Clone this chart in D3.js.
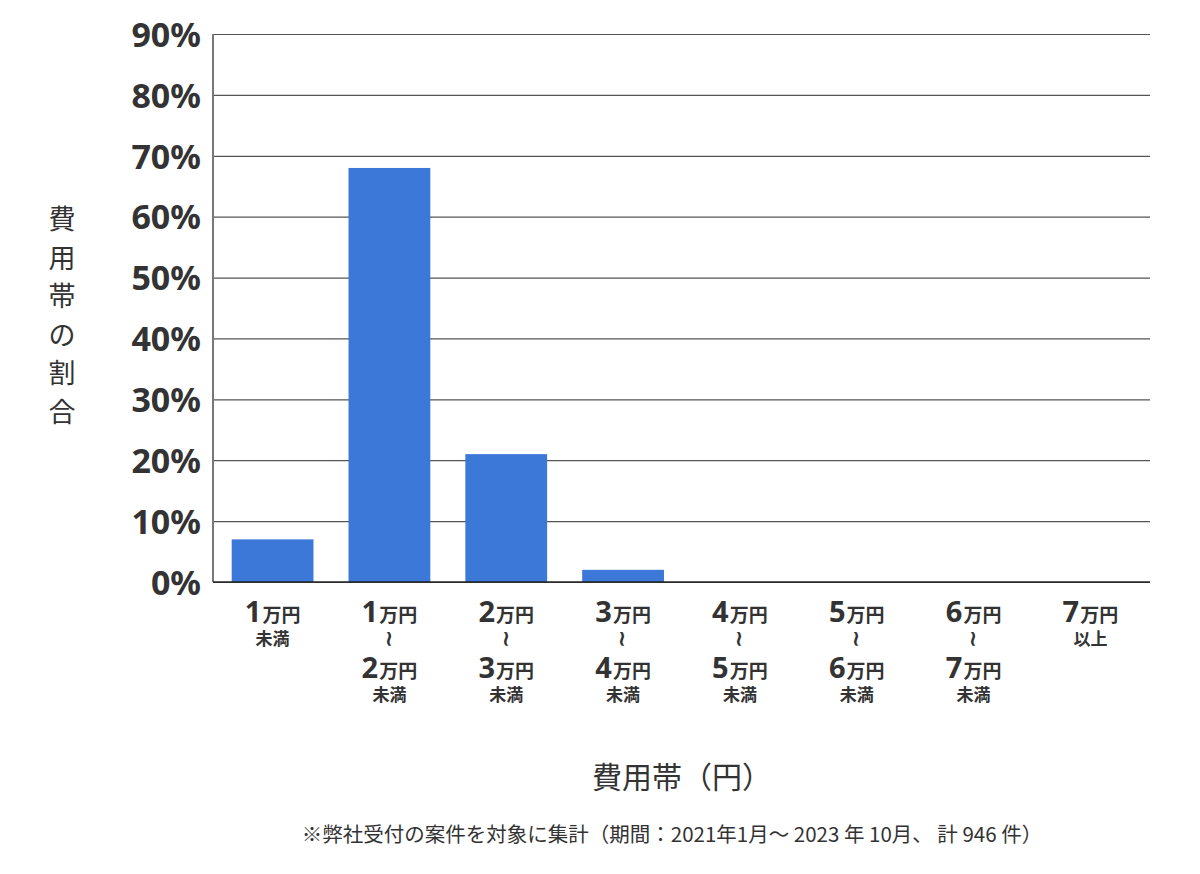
<!DOCTYPE html>
<html>
<head>
<meta charset="utf-8">
<script src="https://cdn.jsdelivr.net/npm/d3@7"></script>
<style>
  body { margin: 0; background: #fff; }
  text { font-family: "Noto Sans CJK JP", "Noto Sans", sans-serif; fill: #333; }
</style>
</head>
<body>
<div id="chart"></div>
<script>
// category labels: [from, to] in 万円 (null = open)
var categories = ["lt1", "1-2", "2-3", "3-4", "4-5", "5-6", "6-7", "ge7"];
var fromLabels = ["1", "1", "2", "3", "4", "5", "6", "7"];
var toLabels = [null, "2", "3", "4", "5", "6", "7", null];
var suffixLabels = ["未満", "未満", "未満", "未満", "未満", "未満", "未満", "以上"];
var shares = [7, 68, 21, 2, 0, 0, 0, 0];
var yTicks = [0, 10, 20, 30, 40, 50, 60, 70, 80, 90];

var svgWidth = 1200, svgHeight = 874;
var margin = { top: 34, right: 50, bottom: 292, left: 213 };
var chartWidth = svgWidth - margin.left - margin.right;
var chartHeight = svgHeight - margin.top - margin.bottom;

var svg = d3.select("#chart").append("svg")
    .attr("width", svgWidth)
    .attr("height", svgHeight);

var chartGroup = svg.append("g")
    .attr("transform", `translate(${margin.left}, ${margin.top})`);

var xScale = d3.scaleBand()
    .domain(categories)
    .range([0, chartWidth])
    .paddingInner(0.3)
    .paddingOuter(0.16);

var yScale = d3.scaleLinear()
    .domain([0, 90])
    .range([chartHeight, 0]);

// gridlines + tick labels
var yAxis = d3.axisLeft(yScale)
    .tickValues(yTicks)
    .tickSize(-chartWidth)
    .tickFormat(d => d + "%");

var yg = chartGroup.append("g").call(yAxis);
yg.select(".domain").remove();
yg.selectAll(".tick line").attr("stroke", "#555").attr("stroke-width", 1.2);
yg.selectAll(".tick text")
    .attr("x", -12)
    .attr("dy", "0.36em")
    .style("font-family", "'Noto Sans', sans-serif")
    .style("font-size", "34px")
    .style("font-weight", "bold")
    .style("fill", "#333");

// left axis line
chartGroup.append("line")
    .attr("x1", 0).attr("x2", 0)
    .attr("y1", 0).attr("y2", chartHeight)
    .attr("stroke", "#777")
    .attr("stroke-width", 2);

// bars
chartGroup.selectAll("rect.bar")
    .data(shares)
    .enter()
    .append("rect")
    .attr("class", "bar")
    .attr("x", (d, i) => xScale(categories[i]))
    .attr("y", d => yScale(d))
    .attr("width", xScale.bandwidth())
    .attr("height", d => chartHeight - yScale(d))
    .attr("fill", "#3c78d8");

// bottom axis
chartGroup.append("line")
    .attr("x1", 0).attr("x2", chartWidth)
    .attr("y1", chartHeight).attr("y2", chartHeight)
    .attr("stroke", "#222")
    .attr("stroke-width", 1.5);

// category labels
function amount(g, num, y) {
    var t = g.append("text")
        .attr("y", y)
        .attr("text-anchor", "middle")
        .style("font-weight", "bold");
    t.append("tspan").text(num).style("font-size", "29px").style("font-family", "'Noto Sans', sans-serif");
    t.append("tspan").text("万円").style("font-size", "19px").attr("dx", 1);
}

categories.forEach(function(c, i) {
    var g = chartGroup.append("g")
        .attr("transform", `translate(${xScale(c) + xScale.bandwidth() / 2}, ${chartHeight})`);
    amount(g, fromLabels[i], 40);
    if (toLabels[i]) {
        g.append("text")
            .attr("transform", "translate(0, 57) rotate(90)")
            .attr("text-anchor", "middle")
            .attr("dy", "0.35em")
            .style("font-family", "'DejaVu Sans', sans-serif")
            .style("font-size", "22px")
            .style("font-weight", "bold")
            .text("~");
        amount(g, toLabels[i], 96);
        g.append("text")
            .attr("y", 119)
            .attr("text-anchor", "middle")
            .style("font-size", "17px")
            .style("font-weight", "bold")
            .text(suffixLabels[i]);
    } else {
        g.append("text")
            .attr("y", 63)
            .attr("text-anchor", "middle")
            .style("font-size", "17px")
            .style("font-weight", "bold")
            .text(suffixLabels[i]);
    }
});

// y axis title (vertical)
var yTitle = "費用帯の割合".split("");
svg.selectAll("text.ytitle")
    .data(yTitle)
    .enter()
    .append("text")
    .attr("class", "ytitle")
    .attr("x", 62)
    .attr("y", (d, i) => 229 + i * 38.5)
    .attr("text-anchor", "middle")
    .style("font-size", "27px")
    .text(d => d);

// x axis title
svg.append("text")
    .attr("x", 682)
    .attr("y", 788)
    .attr("text-anchor", "middle")
    .style("font-size", "30px")
    .text("費用帯（円）");

// footnote
svg.append("text")
    .attr("x", 672)
    .attr("y", 842)
    .attr("text-anchor", "middle")
    .style("font-size", "20.5px")
    .text("※弊社受付の案件を対象に集計（期間：2021年1月～ 2023 年 10月、 計 946 件）");
</script>
</body>
</html>
